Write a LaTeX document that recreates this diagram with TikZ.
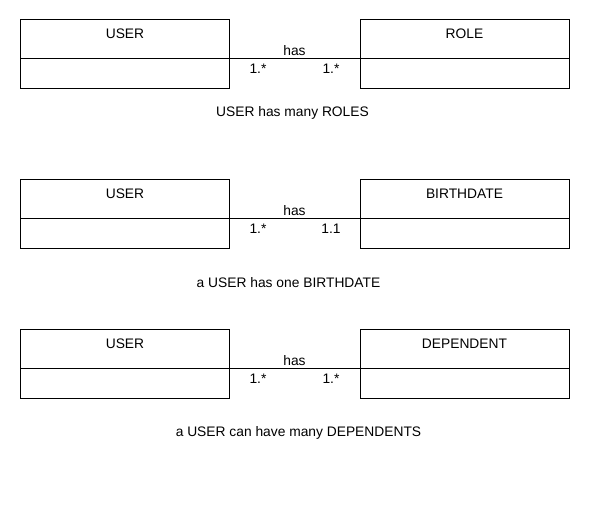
\documentclass[tikz,border=0pt]{standalone}
\usepackage{fontspec}
\setmainfont{Liberation Sans}
\begin{document}
\begin{tikzpicture}[x=1pt,y=-1pt,
  every node/.style={font=\fontsize{13.8}{15}\selectfont, inner sep=0pt, outer sep=0pt},
  comp/.style={draw, line width=1pt, minimum width=209pt, anchor=north west},
  topc/.style={comp, minimum height=39pt},
  botc/.style={comp, minimum height=29.5pt},
  lbl/.style={anchor=center},
  conn/.style={line width=1pt}]
\useasboundingbox (0,0) rectangle (590,510);
\foreach \i/\t/\r/\m/\c/\cx/\cy [count=\k] in {20/ROLE/1.*/1.*/USER has many ROLES/292.5/113, 180/BIRTHDATE/1.1/1.*/a USER has one BIRTHDATE/288.5/283, 330/DEPENDENT/1.*/1.*/a USER can have many DEPENDENTS/298.5/433}{
  \node[topc] (ut\k) at (20,\i) {};
  \node[botc] (ub\k) at (ut\k.south west) {};
  \node[topc] (rt\k) at (360,\i) {};
  \node[botc] (rb\k) at (rt\k.south west) {};
  \node[lbl] (un\k) at (125,\i+13.5) {USER};
  \node[lbl] (rn\k) at (464.5,\i+13.5) {\t};
  \draw[conn] (ut\k.south east) -- (rt\k.south west);
  \node[lbl] (has\k) at (294.5,\i+30.5) {has};
  \node[lbl] (lm\k) at (258,\i+49) {\m};
  \node[lbl] (rm\k) at (331,\i+49) {\r};
  \node[lbl] (cap\k) at (\cx,\cy) {\c};
}
\end{tikzpicture}
\end{document}
